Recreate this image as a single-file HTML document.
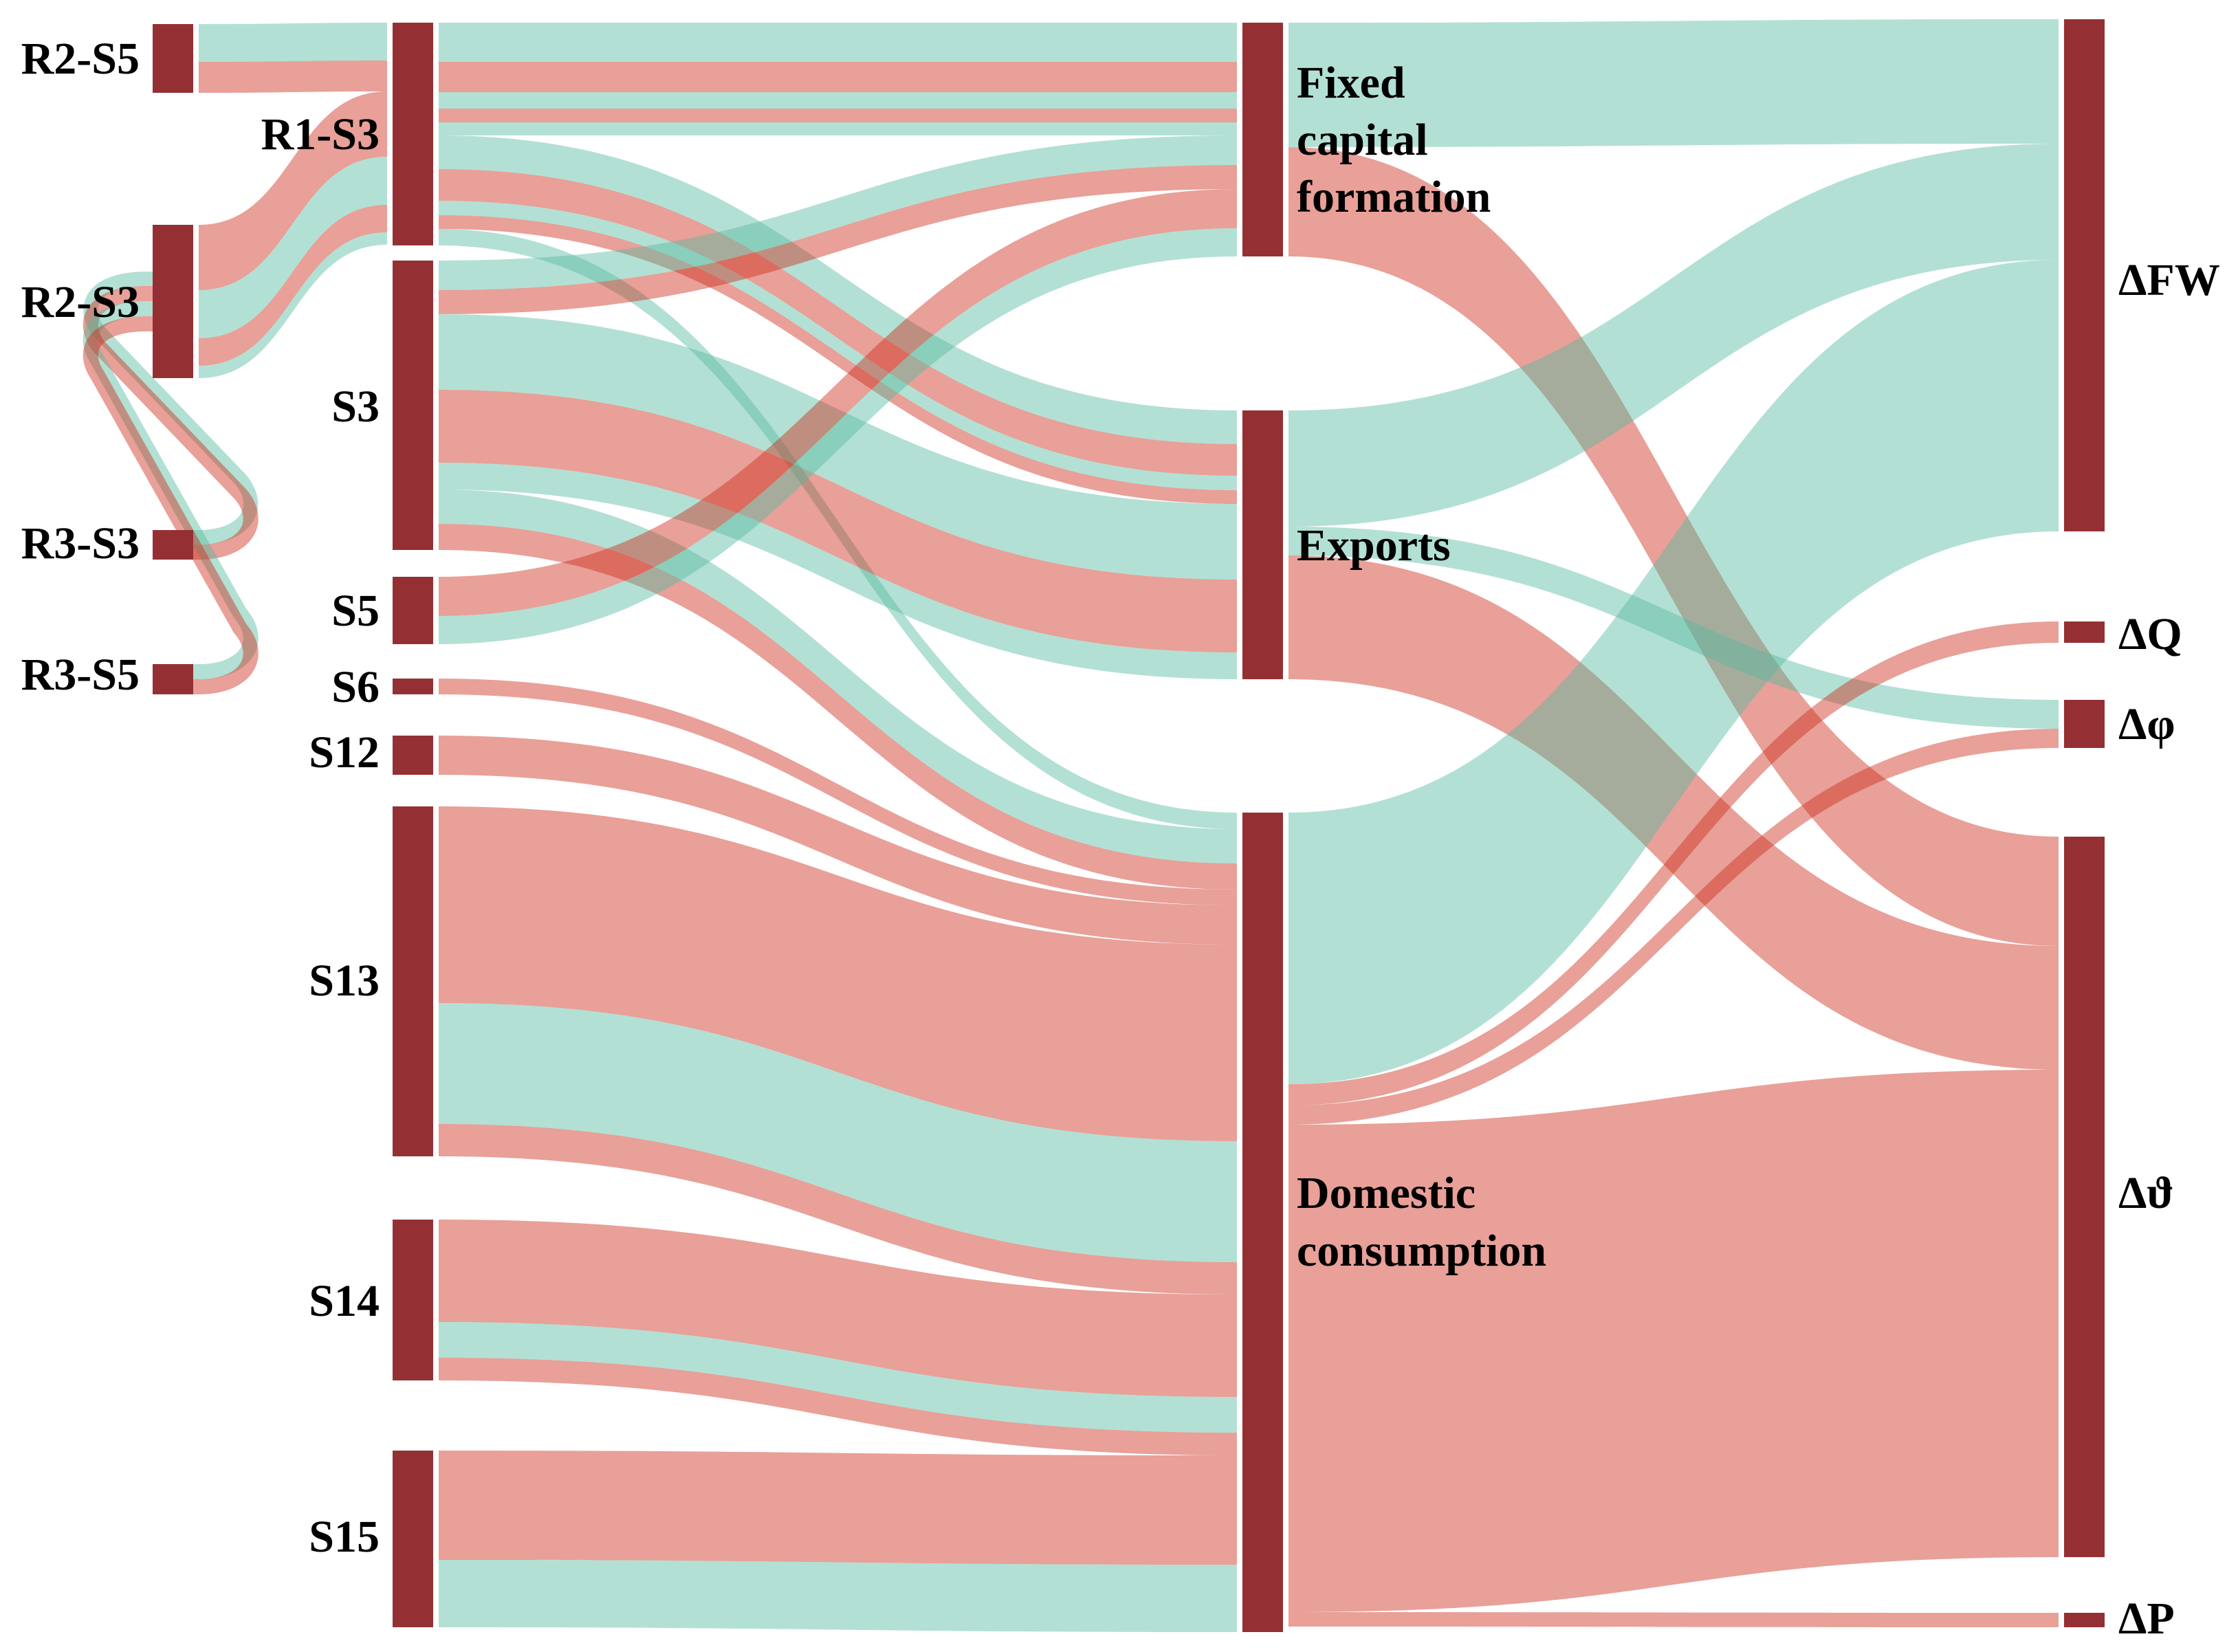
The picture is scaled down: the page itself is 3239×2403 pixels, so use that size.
<!DOCTYPE html>
<html><head><meta charset="utf-8"><title>Sankey</title>
<style>
html,body{margin:0;padding:0;background:#fff;}
svg{display:block;}
text{font-family:"Liberation Serif","DejaVu Serif",serif;font-weight:bold;font-size:66px;fill:#000;}
</style></head>
<body>
<svg id="chart" width="3239" height="2403" viewBox="0 0 3239 2403" xmlns="http://www.w3.org/2000/svg">
<rect x="0" y="0" width="3239" height="2403" fill="#fff"/>
<g id="loops"></g>
<g id="links"></g>
<g id="nodes"></g>
<g id="labels"></g>
</svg>
<script>
// ---- data ----
const nodeNames = ["R2-S5","R2-S3","R3-S3","R3-S5",
  "R1-S3","S3","S5","S6","S12","S13","S14","S15",
  "Fixed capital formation","Exports","Domestic consumption",
  "ΔFW","ΔQ","Δφ","Δϑ","ΔP"];
const nodeColumn = [0,0,0,0, 1,1,1,1,1,1,1,1, 2,2,2, 3,3,3,3,3];

const linkSource = ["R2-S5","R2-S5","R2-S3","R2-S3","R2-S3","R2-S3",
  "R3-S3","R3-S3","R3-S5","R3-S5",
  "R1-S3","R1-S3","R1-S3","R1-S3","R1-S3","R1-S3","R1-S3","R1-S3","R1-S3","R1-S3",
  "S3","S3","S3","S3","S3","S3","S3",
  "S5","S5","S6","S12",
  "S13","S13","S13","S14","S14","S14","S15","S15",
  "Fixed capital formation","Fixed capital formation",
  "Exports","Exports","Exports",
  "Domestic consumption","Domestic consumption","Domestic consumption","Domestic consumption","Domestic consumption"];
const linkTarget = ["R1-S3","R1-S3","R1-S3","R1-S3","R1-S3","R1-S3",
  "R2-S3","R2-S3","R2-S3","R2-S3",
  "Fixed capital formation","Fixed capital formation","Fixed capital formation","Fixed capital formation","Fixed capital formation",
  "Exports","Exports","Exports","Exports","Domestic consumption",
  "Fixed capital formation","Fixed capital formation","Exports","Exports","Exports","Domestic consumption","Domestic consumption",
  "Fixed capital formation","Fixed capital formation","Domestic consumption","Domestic consumption",
  "Domestic consumption","Domestic consumption","Domestic consumption","Domestic consumption","Domestic consumption","Domestic consumption","Domestic consumption","Domestic consumption",
  "ΔFW","Δϑ",
  "ΔFW","Δφ","Δϑ",
  "ΔFW","ΔQ","Δφ","Δϑ","ΔP"];
const linkValue = [55,45,95,70,40,18,
  21,22,22,22,
  57,44,24,20,19,49,46,21,20,24,
  43,35,110,106,39,50,38,
  57,41,23,57,
  286,176,47,149,52,33,159,98,
  181,159,
  169,42,180,
  395,31,28,709,21];
const linkType = ["g","r","r","g","r","g",
  "g","r","g","r",
  "g","r","g","r","g","g","r","g","r","g",
  "g","r","g","r","g","g","r",
  "r","g","r","r",
  "r","g","r","r","g","r","r","g",
  "g","r",
  "g","g","r",
  "g","r","r","r","r"];

// ---- layout (pixels, not data) ----
const colX = [222, 571, 1807, 3002];
const nodeW = 59;
const gap = 8;
const nodeTop = {"R2-S5":35,"R2-S3":327,"R3-S3":771,"R3-S5":966,
  "R1-S3":33,"S3":379,"S5":839,"S6":987,"S12":1070,"S13":1173,"S14":1774,"S15":2110,
  "Fixed capital formation":33,"Exports":597,"Domestic consumption":1182,
  "ΔFW":28,"ΔQ":904,"Δφ":1018,"Δϑ":1217,"ΔP":2346};
const labelLines = {"Fixed capital formation":["Fixed","capital","formation"],
  "Domestic consumption":["Domestic","consumption"]};
const labelBase = {"R2-S5":107,"R2-S3":461,"R3-S3":812,"R3-S5":1003,
  "R1-S3":217,"S3":613,"S5":910,"S6":1021,"S12":1116,"S13":1448,"S14":1914,"S15":2257,
  "Fixed capital formation":142,"Exports":815,"Domestic consumption":1757,
  "ΔFW":429,"ΔQ":944,"Δφ":1075,"Δϑ":1757,"ΔP":2376};
const lineStep = {"Fixed capital formation":83,"Domestic consumption":84};
const fillG = "rgb(86,186,159)", fillR = "rgb(204,44,26)", op = 0.45;

const NS = "http://www.w3.org/2000/svg";
const idx = {}; nodeNames.forEach((n,i)=>idx[n]=i);
const outSum = {}, inSum = {}, loopIn = {};
nodeNames.forEach(n=>{outSum[n]=0;inSum[n]=0;loopIn[n]=0;});
linkValue.forEach((v,i)=>{
  const s=linkSource[i], t=linkTarget[i];
  outSum[s]+=v;
  if (nodeColumn[idx[s]]>=nodeColumn[idx[t]]) loopIn[t]+=v; else inSum[t]+=v;
});
const nodeH = {};
nodeNames.forEach(n=>{nodeH[n]=Math.max(outSum[n],inSum[n],loopIn[n]);});
const outOff = {}, inOff = {}, loopOff = {};
nodeNames.forEach(n=>{outOff[n]=nodeTop[n]; inOff[n]=nodeTop[n]; loopOff[n]=nodeTop[n]+(nodeH[n]-loopIn[n])/2;});

const gLinks = document.getElementById('links');
const gLoops = document.getElementById('loops');
linkValue.forEach((v,i)=>{
  const s=linkSource[i], t=linkTarget[i];
  const cs=nodeColumn[idx[s]], ct=nodeColumn[idx[t]];
  const col = linkType[i]==='g'?fillG:fillR;
  const y0 = outOff[s]; outOff[s]+=v;
  if (cs>=ct) {
    const y1 = loopOff[t]; loopOff[t]+=v;
    const ys = y0+v/2, yt = y1+v/2;
    const xs = colX[cs]+nodeW+gap, xt = colX[ct]-gap;
    const p = document.createElementNS(NS,'path');
    const d = `M ${xs-gap} ${ys} L ${xs} ${ys} C ${xs+70} ${ys} ${xs+95} ${ys-45} ${xs+60} ${ys-85} `+
      `L ${xt-72} ${yt+75} C ${xt-96} ${yt+40} ${xt-80} ${yt} ${xt} ${yt} L ${xt+gap} ${yt}`;
    p.setAttribute('d', d);
    p.setAttribute('fill','none');
    p.setAttribute('stroke',col);
    p.setAttribute('stroke-opacity',op);
    p.setAttribute('stroke-width',v);
    p.setAttribute('stroke-linejoin','round');
    
    
    gLoops.appendChild(p);
  } else {
    const y1 = inOff[t]; inOff[t]+=v;
    const x0 = colX[cs]+nodeW+gap, x1 = colX[ct]-gap, xm=(x0+x1)/2;
    const p = document.createElementNS(NS,'path');
    const d = `M ${x0} ${y0} C ${xm} ${y0} ${xm} ${y1} ${x1} ${y1} L ${x1} ${y1+v} C ${xm} ${y1+v} ${xm} ${y0+v} ${x0} ${y0+v} Z`;
    p.setAttribute('d', d);
    p.setAttribute('fill',col);
    p.setAttribute('fill-opacity',op);
    
    
    gLinks.appendChild(p);
  }
});

const gNodes = document.getElementById('nodes');
const gLabels = document.getElementById('labels');
nodeNames.forEach((n,i)=>{
  const c = nodeColumn[i];
  const r = document.createElementNS(NS,'rect');
  r.setAttribute('x',colX[c]); r.setAttribute('y',nodeTop[n]);
  r.setAttribute('width',nodeW); r.setAttribute('height',nodeH[n]);
  r.setAttribute('fill','#943034');
  
  
  gNodes.appendChild(r);
  const lines = labelLines[n] || [n];
  lines.forEach((ln,k)=>{
    const t = document.createElementNS(NS,'text');
    let x, anchor;
    if (c<=1) { x = colX[c]-19; anchor='end'; }
    else { x = colX[c]+nodeW+20; anchor='start'; }
    t.setAttribute('x',x);
    t.setAttribute('y',labelBase[n]+k*(lineStep[n]||0));
    t.setAttribute('text-anchor',anchor);
    
    
    t.textContent = ln;
    gLabels.appendChild(t);
  });
});
</script>
</body></html>
